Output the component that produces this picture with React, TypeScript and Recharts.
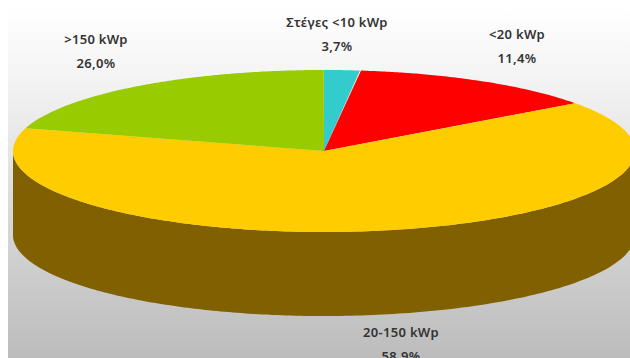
import React from "react";
import { Pie, PieChart } from "recharts";

const categories = ["Στέγες <10 kWp", "<20 kWp", "20-150 kWp", ">150 kWp"];
const shares = [3.7, 11.4, 58.9, 26.0];
const shareLabels = ["3,7%", "11,4%", "58,9%", "26,0%"];
const sliceColors = ["#33CCCC", "#FF0000", "#FFCC00", "#99CC00"];
const labelCenters = [
  { x: 337, y: 23 },
  { x: 517, y: 35 },
  { x: 401, y: 333 },
  { x: 96, y: 40 },
];

const WIDTH = 630;
const HEIGHT = 358;
const CX = 324;
const CY = 151;
const RX = 311;
const RY = 81;
const DEPTH = 84;
const SIDE_COLOR = "#806000";

const tableData = categories.map((name, i) => ({
  name,
  value: shares[i],
  fill: sliceColors[i],
}));

const rad = (deg: number) => (deg * Math.PI) / 180;

// the tilted view squeezes some angles and opens others up.
// takes degrees clockwise from 12 o'clock, returns the same on screen
const viewAngle = (t: number) =>
  t +
  29.2 * (1 - Math.cos(rad(t))) +
  8.5 * Math.sin(rad(t)) -
  20.6 * Math.sin(rad(2 * t));

const rimPoint = (t: number, rx: number, ry: number, dy = 0) => {
  const s = rad(viewAngle(t));
  return [CX + rx * Math.sin(s), CY - ry * Math.cos(s) + dy];
};

const toPath = (pts: number[][]) =>
  "M" + pts.map((p) => `${p[0].toFixed(1)},${p[1].toFixed(1)}`).join("L") + "Z";

// one slice of the disc: top face plus the wall under the front part of its rim
function DiscSlice(props: any) {
  const { startAngle, endAngle, fill } = props;
  // recharts angles run counter-clockwise from 3 o'clock
  const from = 90 - startAngle;
  const to = 90 - endAngle;

  const top: number[][] = [[CX, CY]];
  const front: number[][] = [];
  for (let t = from; t <= to + 0.001; t += 0.5) {
    top.push(rimPoint(t, RX, RY));
    const p = rimPoint(t, RX, RY);
    if (p[1] >= CY) front.push(p);
  }
  const wall = front.concat(
    front
      .slice()
      .reverse()
      .map((p) => [p[0], p[1] + DEPTH])
  );

  return (
    <g>
      {front.length > 1 && <path d={toPath(wall)} fill={SIDE_COLOR} />}
      <path d={toPath(top)} fill={fill} />
    </g>
  );
}

function SliceLabel(props: any) {
  const { index } = props;
  const pos = labelCenters[index];
  return (
    <text
      x={pos.x}
      textAnchor="middle"
      fontFamily="'Noto Sans', sans-serif"
      fontSize={13}
      fontWeight={600}
      letterSpacing={0.3}
      fill="#333333"
    >
      <tspan x={pos.x} y={pos.y + 4}>
        {categories[index]}
      </tspan>
      <tspan x={pos.x} y={pos.y + 28}>
        {shareLabels[index]}
      </tspan>
    </text>
  );
}

export default function App() {
  return (
    <div
      style={{
        position: "absolute",
        left: 0,
        top: 0,
        width: WIDTH,
        height: HEIGHT,
        overflow: "hidden",
        background: "#fff",
      }}
    >
      <div
        style={{
          position: "absolute",
          left: 8,
          top: 6,
          right: 0,
          bottom: 0,
          background: "linear-gradient(to bottom, #ffffff 0%, #f4f4f4 20%, #bcbcbc 100%)",
        }}
      />
      <div style={{ position: "absolute", left: 0, top: 0 }}>
        <PieChart width={WIDTH} height={HEIGHT} margin={{ top: 0, right: 0, bottom: 0, left: 0 }}>
          <Pie
            data={tableData}
            dataKey="value"
            nameKey="name"
            cx={CX}
            cy={CY}
            innerRadius={0}
            outerRadius={RX}
            startAngle={90}
            endAngle={-270}
            paddingAngle={0}
            stroke="none"
            shape={DiscSlice}
            label={SliceLabel}
            labelLine={false}
            isAnimationActive={false}
          />
        </PieChart>
      </div>
    </div>
  );
}
